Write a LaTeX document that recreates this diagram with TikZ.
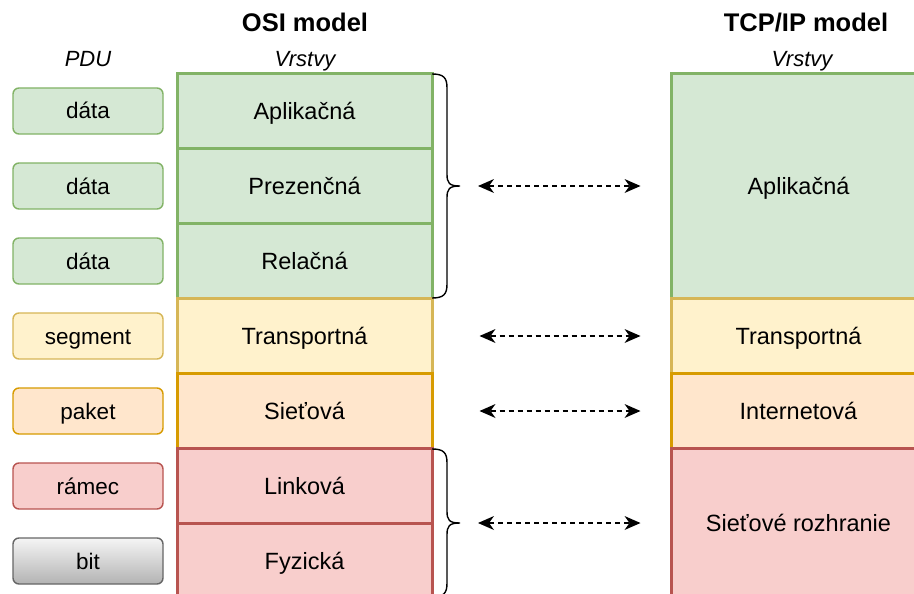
\documentclass[tikz,border=0pt]{standalone}
\usepackage{fontspec}
\setmainfont{Liberation Sans}
\usetikzlibrary{arrows.meta}
\definecolor{gF}{HTML}{D5E8D4}\definecolor{gD}{HTML}{82B366}
\definecolor{yF}{HTML}{FFF2CC}\definecolor{yD}{HTML}{D6B656}
\definecolor{oF}{HTML}{FFE6CC}\definecolor{oD}{HTML}{D79B00}
\definecolor{rF}{HTML}{F8CECC}\definecolor{rD}{HTML}{B85450}
\definecolor{kT}{HTML}{F5F5F5}\definecolor{kB}{HTML}{B3B3B3}\definecolor{kD}{HTML}{666666}
\tikzset{
  layer/.style={draw, line width=3pt, minimum width=255pt, minimum height=75pt, inner sep=0pt,
    text height=16.5pt, text depth=0pt, font=\fontsize{23.5}{27}\selectfont},
  pdubox/.style={draw, line width=1.4pt, rounded corners=6pt, minimum width=150pt, minimum height=46pt,
    inner sep=0pt, text height=16pt, text depth=0pt, font=\fontsize{22.5}{26}\selectfont},
  green/.style={fill=gF, draw=gD}, yellow/.style={fill=yF, draw=yD},
  orange/.style={fill=oF, draw=oD}, red/.style={fill=rF, draw=rD},
  gray/.style={top color=kT, bottom color=kB, draw=kD},
  title/.style={font=\bfseries\fontsize{25.5}{30}\selectfont, anchor=base},
  sub/.style={font=\itshape\fontsize{22}{26}\selectfont, anchor=base},
  tipx/.tip={Stealth[length=16pt,width=14pt,inset=5pt,line width=0pt]},
  arr/.style={line width=1.5pt, dash pattern=on 5pt off 4pt, tipx-tipx},
  bracestyle/.style={line width=1.4pt, line join=round}
}
\begin{document}
\begin{tikzpicture}[x=1pt,y=-1pt]
\clip (0,0) rectangle (914,594);
\fill[white] (0,0) rectangle (914,594);
% titles
\node[title] (osititle) at (305,32) {OSI model};
\node[title] (tcptitle) at (806,32) {TCP/IP model};
\node[sub] (pdulbl) at (88,67) {PDU};
\node[sub] (osivr) at (305,67) {Vrstvy};
\node[sub] (tcpvr) at (802,67) {Vrstvy};
% OSI layers
\node[layer,green]  (osi1) at (304.5,111) {Aplikačná};
\node[layer,green]  (osi2) at (304.5,186) {Prezenčná};
\node[layer,green]  (osi3) at (304.5,261) {Relačná};
\node[layer,yellow] (osi4) at (304.5,336) {Transportná};
\node[layer,orange] (osi5) at (304.5,411) {Sieťová};
\node[layer,red]    (osi6) at (304.5,486) {Linková};
\node[layer,red]    (osi7) at (304.5,561) {Fyzická};
% TCP/IP layers
\node[layer,green,minimum height=225pt] (tcp1) at (798.5,186) {Aplikačná};
\node[layer,yellow] (tcp2) at (798.5,336) {Transportná};
\node[layer,orange] (tcp3) at (798.5,411) {Internetová};
\node[layer,red,minimum height=150pt] (tcp4) at (798.5,523) {Sieťové rozhranie};
% PDU
\node[pdubox,green]  (pdu1) at (88,111) {dáta};
\node[pdubox,green]  (pdu2) at (88,186) {dáta};
\node[pdubox,green]  (pdu3) at (88,261) {dáta};
\node[pdubox,yellow] (pdu4) at (88,336) {segment};
\node[pdubox,orange] (pdu5) at (88,411) {paket};
\node[pdubox,red]    (pdu6) at (88,486) {rámec};
\node[pdubox,gray]   (pdu7) at (88,561) {bit};
% braces
\coordinate (b1tip) at (460,186);
\coordinate (b2tip) at (460,523);
\draw[bracestyle] (432,74) .. controls (444,74) and (447,78) .. (447,88)
  -- (447,174) .. controls (447,183) and (449,186) .. (b1tip)
  (b1tip) .. controls (449,186) and (447,189) .. (447,198)
  -- (447,284) .. controls (447,294) and (444,298) .. (432,298);
\draw[bracestyle] (432,449) .. controls (444,449) and (447,453) .. (447,463)
  -- (447,511) .. controls (447,520) and (449,523) .. (b2tip)
  (b2tip) .. controls (449,523) and (447,526) .. (447,535)
  -- (447,583) .. controls (447,593) and (444,597) .. (432,597);
% arrows
\draw[arr, shorten <=18pt, shorten >=29pt] (b1tip) -- (tcp1.west |- b1tip);
\draw[arr, shorten <=46pt, shorten >=29pt] (osi4.east) -- (tcp2.west);
\draw[arr, shorten <=46pt, shorten >=29pt] (osi5.east) -- (tcp3.west);
\draw[arr, shorten <=18pt, shorten >=29pt] (b2tip) -- (tcp4.west |- b2tip);
\end{tikzpicture}
\end{document}
